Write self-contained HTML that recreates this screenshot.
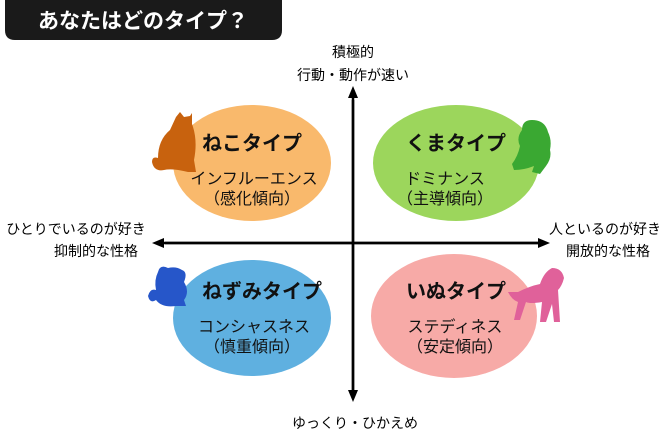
<!DOCTYPE html>
<html><head><meta charset="utf-8"><style>
body{margin:0;width:670px;height:440px;background:#fff;overflow:hidden;font-family:"Liberation Sans","Noto Sans CJK JP",sans-serif;}
svg text{font-family:"Liberation Sans","Noto Sans CJK JP",sans-serif;}
</style></head><body>
<svg width="670" height="440" viewBox="0 0 670 440">
<defs><marker id="a" markerUnits="userSpaceOnUse" markerWidth="12" markerHeight="12" refX="2" refY="6" orient="auto"><path d="M0,1 L12,6 L0,11z" fill="#000"/></marker></defs>
<path d="M5,0 H282 V30 Q282,40 272,40 H15 Q5,40 5,30 Z" fill="#1a1a1a"/>
<text x="143" y="28" fill="#fff" font-size="21" font-weight="bold" text-anchor="middle">あなたはどのタイプ？</text>
<text x="353" y="57" font-size="14" text-anchor="middle">積極的</text>
<text x="353" y="80" font-size="14" text-anchor="middle">行動・動作が速い</text>
<text x="355" y="428" font-size="14" text-anchor="middle">ゆっくり・ひかえめ</text>
<text x="76" y="234" font-size="14" text-anchor="middle">ひとりでいるのが好き</text>
<text x="96" y="256" font-size="14" text-anchor="middle">抑制的な性格</text>
<text x="605" y="234" font-size="14" text-anchor="middle">人といるのが好き</text>
<text x="608" y="256" font-size="14" text-anchor="middle">開放的な性格</text>
<line x1="353" y1="395" x2="353" y2="96" stroke="#000" stroke-width="2.5" marker-end="url(#a)"/>
<line x1="353" y1="100" x2="353" y2="392" stroke="#000" stroke-width="2.5" marker-end="url(#a)"/>
<line x1="540" y1="243" x2="162" y2="243" stroke="#000" stroke-width="2.5" marker-end="url(#a)"/>
<line x1="165" y1="243" x2="540" y2="243" stroke="#000" stroke-width="2.5" marker-end="url(#a)"/>
<ellipse cx="252" cy="163" rx="79" ry="58" fill="#f9b96c"/>
<ellipse cx="456" cy="163" rx="83" ry="58" fill="#9cd65c"/>
<ellipse cx="252" cy="318" rx="79" ry="58" fill="#5fb0e0"/>
<ellipse cx="454" cy="316" rx="83" ry="62" fill="#f7aaa7"/>
<g fill="#c8620e"><path d="M176,117 L180,112 L184,117 L190,116 L192,113 L192,124 Q198,140 194,160 L196,172 L188,172 Q172,168 164,170 Q154,172 152,162 Q152,156 158,158 Q158,140 170,130 Z"/></g>
<g fill="#3aa832"><path d="M522,130 Q522,120 532,120 Q545,120 548,132 Q552,140 550,150 Q552,158 546,166 L540,174 L532,172 L534,166 Q524,170 514,170 L512,164 Q518,156 520,146 Q516,138 522,130 Z"/></g>
<g fill="#2656c9"><path d="M158,272 Q160,264 168,268 Q176,266 182,270 Q188,272 184,282 Q190,292 184,300 L186,306 L176,306 Q162,308 156,300 Q150,304 148,296 Q150,288 156,290 Q154,280 158,272 Z"/></g>
<g fill="#e0619a"><path d="M518,292 Q530,286 540,284 Q544,272 552,268 Q562,268 564,278 Q562,286 558,290 L560,322 L554,322 L552,304 L546,322 L540,322 L542,302 Q530,304 526,302 L520,320 L514,320 L518,302 Q512,300 508,292 Z"/></g>
<g text-anchor="middle" fill="#111">
<text x="252" y="150" font-size="20" font-weight="bold">ねこタイプ</text>
<text x="254" y="184" font-size="16">インフルーエンス</text>
<text x="252" y="204" font-size="16">（感化傾向）</text>
<text x="456" y="150" font-size="20" font-weight="bold">くまタイプ</text>
<text x="445" y="184" font-size="16">ドミナンス</text>
<text x="445" y="204" font-size="16">（主導傾向）</text>
<text x="262" y="298" font-size="20" font-weight="bold">ねずみタイプ</text>
<text x="254" y="332" font-size="16">コンシャスネス</text>
<text x="252" y="352" font-size="16">（慎重傾向）</text>
<text x="456" y="298" font-size="20" font-weight="bold">いぬタイプ</text>
<text x="455" y="332" font-size="16">ステディネス</text>
<text x="455" y="352" font-size="16">（安定傾向）</text>
</g>
</svg>
</body></html>
